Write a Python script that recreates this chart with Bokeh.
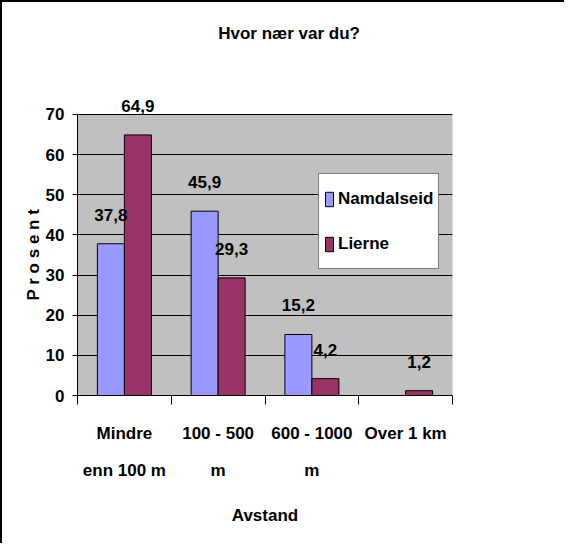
import numpy as np
from bokeh.plotting import figure
from bokeh.models import (ColumnDataSource, FixedTicker, Legend, LegendItem,
                          Label, LabelSet, Range1d, BoxAnnotation, Title)
from bokeh.embed import file_html
from bokeh.resources import INLINE
from bokeh.core.properties import value

# ---- data ----
categories = ["Mindre\nenn 100 m", "100 - 500\nm", "600 - 1000\nm", "Over 1 km"]
series_names = ["Namdalseid", "Lierne"]
namdalseid = [37.8, 45.9, 15.2, None]
lierne = [64.9, 29.3, 4.2, 1.2]
y_ticks = [0, 10, 20, 30, 40, 50, 60, 70]
title_text = "Hvor nær var du?"
x_title = "Avstand"
y_title = "P r o s e n t"

FONT = "Liberation Sans"
FS = "17px"
colors = ["#9999FF", "#993366"]
bar_w = 0.288

centers = np.arange(len(categories)) + 0.5
bounds = list(np.arange(len(categories) + 1).astype(float))
y_max = y_ticks[-1]

p = figure(width=564, height=543, x_range=Range1d(0, len(categories)),
           y_range=Range1d(0, 93.9), output_backend="svg", toolbar_location=None,
           title=None,
           min_border_left=77, min_border_right=112, min_border_top=18,
           min_border_bottom=148)
p.background_fill_color = "white"
p.border_fill_color = "white"
p.border_fill_alpha = 0
p.outline_line_color = None
p.styles = {"box-shadow": "inset 2px 2px 0 0 black"}

# plot area (grey, up to top tick)
p.add_layout(BoxAnnotation(bottom=0, top=y_max, fill_color="#C0C0C0", fill_alpha=1,
                           line_color="#808080", line_width=1, level="image"))

renderers = []
for i, (name, vals) in enumerate(zip(series_names, [namdalseid, lierne])):
    off = (i - 0.5) * bar_w
    xs = [c + off for c, v in zip(centers, vals) if v is not None]
    tops = [v for v in vals if v is not None]
    labels = [f"{v:.1f}".replace(".", ",") for v in tops]
    src = ColumnDataSource(dict(x=xs, top=tops, label=labels))
    r = p.vbar(x="x", top="top", bottom=0, width=bar_w, source=src,
               fill_color=colors[i], line_color="black", line_width=1)
    renderers.append(r)
    ls = LabelSet(x="x", y="top", text="label", source=src, y_offset=23,
                  text_align="center", text_baseline="alphabetic",
                  text_font=value(FONT), text_font_size=FS,
                  text_font_style="bold", text_color="black")
    p.add_layout(ls)

# axes
p.yaxis.ticker = FixedTicker(ticks=y_ticks)
p.yaxis.bounds = (0, y_max)
p.yaxis.major_tick_out = 5
p.yaxis.major_tick_in = 0
p.yaxis.minor_tick_line_color = None
p.yaxis.major_label_standoff = 8
p.yaxis.axis_line_color = "black"

p.xaxis.ticker = FixedTicker(ticks=list(centers), minor_ticks=bounds)
p.xaxis.major_label_overrides = {float(c): lab for c, lab in zip(centers, categories)}
p.xaxis.major_tick_out = 9
p.xaxis.major_tick_in = 0
p.xaxis.minor_tick_out = 9
p.xaxis.minor_tick_in = 0
p.xaxis.minor_tick_line_color = "black"
p.xaxis.major_label_standoff = 19
p.xaxis.major_label_text_line_height = 1.95
p.xaxis.major_label_text_align = "center"
p.xaxis.axis_label = x_title
p.xaxis.axis_label_standoff = 23
p.xaxis.axis_line_color = "black"

for ax in (p.xaxis, p.yaxis):
    ax.major_label_text_font = FONT
    ax.major_label_text_font_size = FS
    ax.major_label_text_font_style = "bold"
    ax.major_label_text_color = "black"
    ax.axis_label_text_font = FONT
    ax.axis_label_text_font_size = FS
    ax.axis_label_text_font_style = "bold"
    ax.axis_label_text_color = "black"
p.yaxis.major_tick_line_color = "black"
p.xaxis.major_tick_line_color = None

p.xgrid.visible = False
p.ygrid.ticker = FixedTicker(ticks=y_ticks)
p.ygrid.grid_line_color = "black"
p.ygrid.grid_line_width = 1

# y axis title, centred on the 0-70 area
p.add_layout(Title(text=y_title, align="left", offset=95, standoff=0,
                   text_font=FONT, text_font_size=FS, text_font_style="bold",
                   text_color="black"), "left")

# chart title
p.add_layout(Label(x=211.6, y=362, x_units="screen", y_units="screen",
                   text=title_text, text_align="center", text_baseline="alphabetic",
                   text_font=FONT, text_font_size=FS, text_font_style="bold",
                   text_color="black"))

legend = Legend(items=[LegendItem(label=n, renderers=[r]) for n, r in zip(series_names, renderers)],
                location=(241, 126), orientation="vertical",
                glyph_width=10, glyph_height=18, label_height=39, label_standoff=4,
                padding=5, spacing=6, margin=0,
                border_line_color="black", border_line_width=1,
                background_fill_color="white", background_fill_alpha=1,
                label_text_font=FONT, label_text_font_size=FS,
                label_text_font_style="bold", label_text_color="black")
p.add_layout(legend)

open("out.html", "w").write(file_html(p, INLINE))
